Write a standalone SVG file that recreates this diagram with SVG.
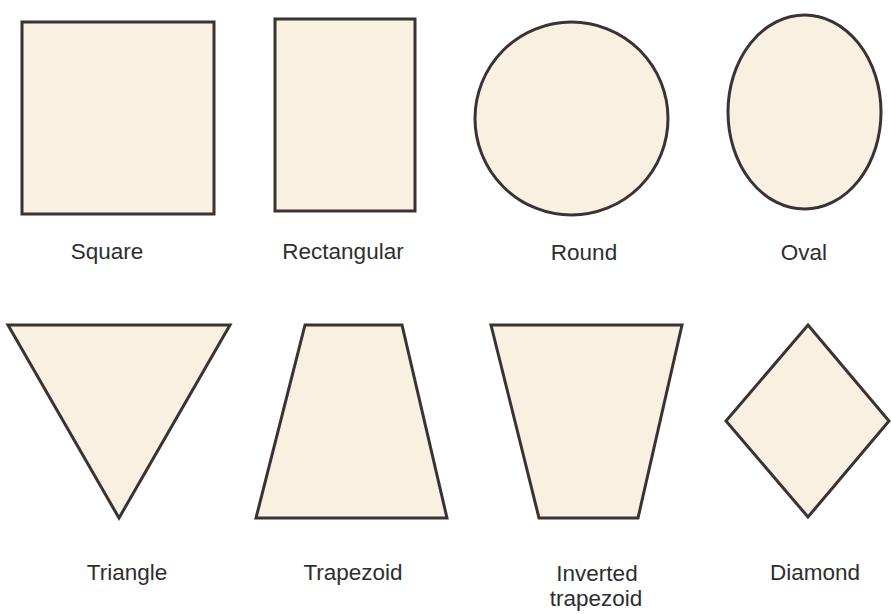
<svg xmlns="http://www.w3.org/2000/svg" width="891" height="614" viewBox="0 0 891 614">
<style>
.s{fill:#f8f0e1;stroke:#3b3333;stroke-width:3;stroke-linejoin:miter}
.t{font-family:"Liberation Sans",Arial,sans-serif;font-size:22.5px;fill:#2e2e2e;text-anchor:middle}
</style>
<rect width="891" height="614" fill="#ffffff"/>
<g id="square"><rect class="s" x="22" y="22" width="192" height="192"/><text class="t" x="107" y="259">Square</text></g>
<g id="rectangular"><rect class="s" x="275" y="19" width="140" height="192"/><text class="t" x="343" y="259">Rectangular</text></g>
<g id="round"><circle class="s" cx="571.5" cy="118.5" r="96.5"/><text class="t" x="584" y="260">Round</text></g>
<g id="oval"><ellipse class="s" cx="804.5" cy="112" rx="76.5" ry="97"/><text class="t" x="804" y="260">Oval</text></g>
<g id="triangle"><polygon class="s" points="8,325 230,325 119,518"/><text class="t" x="127" y="580">Triangle</text></g>
<g id="trapezoid"><polygon class="s" points="305,325 402,325 447,518 256,518"/><text class="t" x="353" y="580">Trapezoid</text></g>
<g id="inverted-trapezoid"><polygon class="s" points="491,325 682,325 638,518 539,518"/><text class="t" x="597" y="581">Inverted</text><text class="t" x="596" y="606">trapezoid</text></g>
<g id="diamond"><polygon class="s" points="808,325 889,421 808,517 726,421"/><text class="t" x="815" y="580">Diamond</text></g>
<g id="connectors"></g>
</svg>
